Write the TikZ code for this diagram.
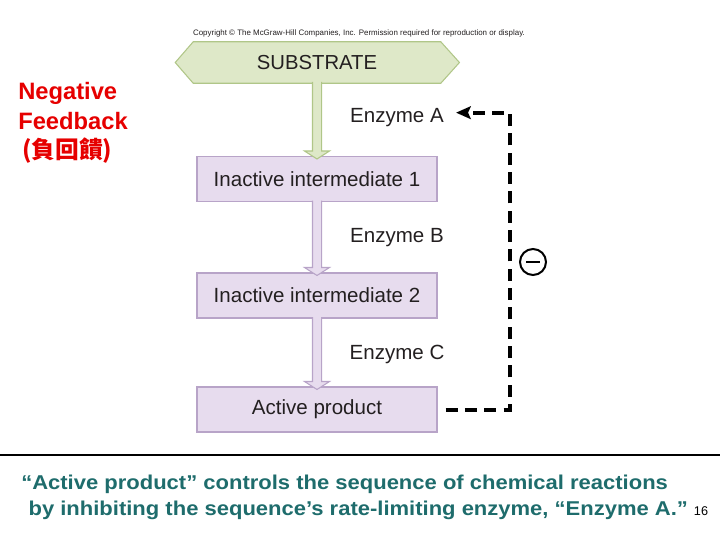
\documentclass[tikz,border=0pt]{standalone}
\usepackage{fontspec}
\usepackage{graphicx}
\setmainfont{Liberation Sans}
\newfontfamily\cjk{Noto Sans CJK TC}
\usetikzlibrary{arrows.meta, calc, positioning, backgrounds}
\definecolor{subgreen}{RGB}{222, 232, 200}
\definecolor{subedge}{RGB}{176, 198, 136}
\definecolor{boxlilac}{RGB}{231, 220, 238}
\definecolor{boxedge}{RGB}{184, 164, 200}
\definecolor{inkgray}{RGB}{35, 31, 32}
\definecolor{notered}{RGB}{230, 0, 0}
\definecolor{noteteal}{RGB}{30, 108, 108}
% fat block arrow from the bottom of #1 to the top of #2
\newcommand{\fatarrow}[3]{%
  \path[#3] let \p1=(#1.south), \p2=(#2.north) in
    (\x1-3.4pt,\y1+1pt) -- (\x1-3.4pt,\y2+3.75pt) -- (\x1-9.4pt,\y2+3.75pt)
    -- (\x1,\y2-2.25pt) -- (\x1+9.4pt,\y2+3.75pt) -- (\x1+3.4pt,\y2+3.75pt)
    -- (\x1+3.4pt,\y1+1pt);}
\newcommand{\wide}[1]{\scalebox{1.1}[1]{#1}}

\begin{document}
\begin{tikzpicture}[
  x=0.75pt, y=-0.75pt,
  every node/.style={text=inkgray},
  stepbox/.style={draw=boxedge, fill=boxlilac, line width=0.8pt,
                  minimum width=180pt, minimum height=33.75pt, inner sep=0pt,
                  font=\fontsize{15.4}{18}\selectfont},
  enzlabel/.style={inner sep=0pt, font=\fontsize{15.4}{18}\selectfont},
  greenarr/.style={fill=subgreen, draw=subedge, line width=0.8pt},
  lilacarr/.style={fill=boxlilac, draw=boxedge, line width=0.8pt},
  fb/.style={line width=3pt, dash pattern=on 9pt off 5.5pt,
             -{Stealth[length=11pt, width=9.5pt, inset=2pt]}}
]
  \useasboundingbox (0,0) rectangle (720,540);

  \node[font=\fontsize{5.95}{7}\selectfont] (copy) at (359,33)
    {Copyright \textcopyright{} The McGraw-Hill Companies, Inc. Permission required for reproduction or display.};

  % substrate hexagon
  \node[inner sep=0pt, minimum width=185.25pt, minimum height=30.75pt,
        font=\fontsize{15.2}{18}\selectfont] (sub) at (317,62.5) {SUBSTRATE};
  \begin{scope}[on background layer]
    \path[greenarr] (sub.north west) -- (sub.north east) -- ([xshift=14pt]sub.east)
      -- (sub.south east) -- (sub.south west) -- ([xshift=-13.5pt]sub.west) -- cycle;
  \end{scope}

  \node[stepbox] (inter1) at (317,179)   {Inactive intermediate 1};
  \node[stepbox] (inter2) at (317,295.5) {Inactive intermediate 2};
  \node[stepbox] (prod)   at (317,409.5) {Active product};

  \node[enzlabel] (enzA) at (397,118) {Enzyme A};
  \node[enzlabel] (enzB) at (397,238) {Enzyme B};
  \node[enzlabel] (enzC) at (397,354) {Enzyme C};

  \fatarrow{sub}{inter1}{greenarr}
  \fatarrow{inter1}{inter2}{lilacarr}
  \fatarrow{inter2}{prod}{lilacarr}

  % feedback loop
  \coordinate (rail) at (510,0);
  \draw[fb] ([xshift=6pt]prod.east) -- (prod.east -| rail)
    -- ([yshift=4pt]enzA.east -| rail) -- ([xshift=9pt,yshift=4pt]enzA.east);
  \node[circle, draw, line width=1.5pt, minimum size=19.5pt, inner sep=0pt] (inh) at (533,262) {};
  \draw[line width=1.6pt] ([xshift=-5pt]inh.center) -- ([xshift=5pt]inh.center);

  \node[anchor=west, align=left, text=notered, inner sep=0pt,
        font=\fontsize{17.8}{22}\selectfont\bfseries] (neg) at (18,123)
    {Negative\\Feedback\\{\cjk\hspace{3pt}(負回饋)}};

  \draw[line width=2.2pt] (0,455) -- (720,455);

  \node[anchor=west, align=left, text=noteteal, inner sep=0pt,
        font=\fontsize{15}{19.5}\selectfont\bfseries] (note) at (21,497)
    {\wide{“Active product” controls the sequence of chemical reactions}\\
     \wide{\hspace*{5pt}by inhibiting the sequence’s rate-limiting enzyme, “Enzyme A.”}};
  \node[font=\fontsize{9.5}{11}\selectfont, text=black] (page) at (701,511) {16};
\end{tikzpicture}
\end{document}
